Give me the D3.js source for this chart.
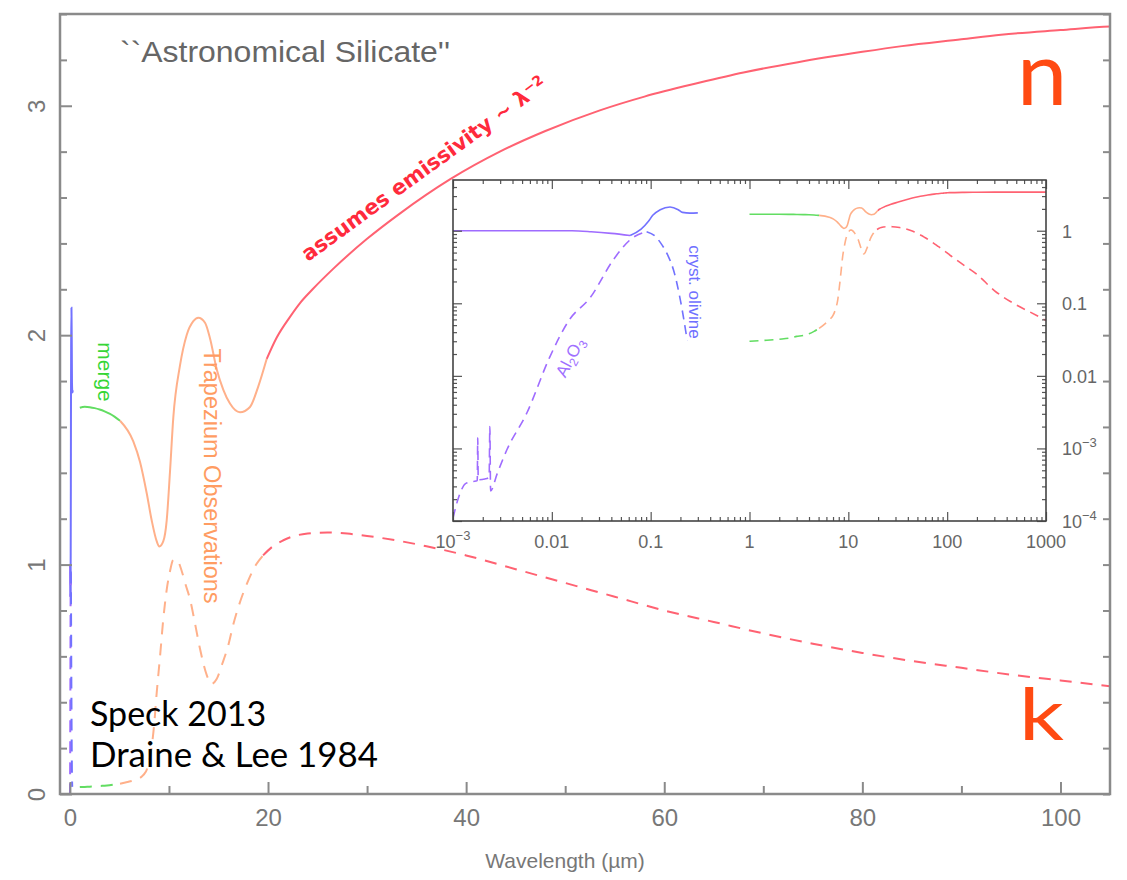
<!DOCTYPE html>
<html>
<head>
<meta charset="utf-8">
<script src="https://cdn.jsdelivr.net/npm/d3@7"></script>
<style>
  body { margin: 0; background: #fff; }
  svg  { display: block; }
</style>
</head>
<body>
<div id="chart"></div>
<script>
// optical constants of "astronomical silicate", wavelength in micron
// short wavelengths (Al2O3 / crystalline olivine)
const lamUV    = [0.001, 0.002, 0.005, 0.01, 0.016, 0.025, 0.04, 0.062];
const nUV      = [1.00, 1.00, 1.00, 1.00, 1.00, 0.97, 0.92, 0.86];
const lamOlv   = [0.062, 0.08, 0.095, 0.105, 0.125, 0.157, 0.19, 0.21, 0.25, 0.30];
const nOlv     = [0.86, 1.05, 1.35, 1.63, 1.95, 2.12, 1.95, 1.79, 1.75, 1.76];
const lamAl    = [0.001, 0.00115, 0.00135, 0.0016, 0.00176, 0.00178, 0.0018, 0.0021, 0.00232, 0.00236, 0.0024, 0.0028, 0.0035, 0.0056, 0.0095, 0.015, 0.0245, 0.042, 0.065, 0.091];
const kAl      = [1.1e-4, 2.2e-4, 3.3e-4, 3.5e-4, 3.6e-4, 1.4e-3, 3.7e-4, 3.8e-4, 4.0e-4, 2.0e-3, 2.6e-4, 4.5e-4, 9.5e-4, 3.1e-3, 0.018, 0.059, 0.12, 0.40, 0.79, 0.97];
const lamOlvK  = [0.091, 0.11, 0.126, 0.15, 0.17, 0.20, 0.234];
const kOlv     = [0.97, 0.85, 0.68, 0.45, 0.29, 0.11, 0.031];

// merge region
const lamMerge = [1.0, 1.5, 2.0, 2.5, 3.0, 3.5, 4.0, 4.5, 5.06];
const nMerge   = [1.684, 1.688, 1.686, 1.682, 1.676, 1.668, 1.658, 1.645, 1.627];
const kMerge   = [0.030, 0.031, 0.032, 0.033, 0.035, 0.036, 0.038, 0.041, 0.045];

// Trapezium observations
const lamTrapN = [5.06, 6.4, 7.08, 7.75, 8.26, 8.76, 9.03, 9.43, 9.77, 10.1, 10.44, 11.11, 11.79, 12.46, 12.96, 13.64, 14.14, 14.82, 15.49, 16.16, 17.17, 18.18, 19.02, 19.87];
const nTrap    = [1.627, 1.537, 1.447, 1.312, 1.192, 1.102, 1.079, 1.102, 1.192, 1.402, 1.642, 1.867, 2.001, 2.061, 2.076, 2.054, 1.987, 1.852, 1.762, 1.702, 1.664, 1.687, 1.777, 1.897];
const lamTrapK = [5.06, 5.8, 6.5, 7.0, 7.4, 7.8, 8.2, 8.5, 8.76, 9.1, 9.4, 9.77, 10.1, 10.44, 10.8, 11.3, 11.7, 12.12, 12.6, 13.1, 13.8, 14.3, 14.8, 15.4, 16.0, 16.5, 17.2, 18.0, 18.8, 19.5];
const kTrap    = [0.045, 0.052, 0.060, 0.068, 0.082, 0.11, 0.19, 0.30, 0.44, 0.60, 0.75, 0.89, 0.97, 1.02, 1.02, 0.97, 0.91, 0.85, 0.75, 0.64, 0.52, 0.48, 0.50, 0.57, 0.65, 0.74, 0.84, 0.93, 1.00, 1.04];

// Draine & Lee, emissivity ~ lambda^-2
const lamDLN   = [19.87, 20.88, 22.22, 23.23, 24.5, 26.6, 30, 33.3, 38.4, 43.4, 48, 53.5, 58, 63.5, 68, 73.5, 80, 84, 90, 94, 100, 105, 150, 200, 300, 500, 1000];
const nDL      = [1.897, 1.99, 2.08, 2.14, 2.20, 2.29, 2.42, 2.53, 2.68, 2.80, 2.89, 2.98, 3.04, 3.10, 3.145, 3.19, 3.235, 3.26, 3.29, 3.31, 3.33, 3.345, 3.38, 3.39, 3.40, 3.40, 3.40];
const lamDLK   = [19.5, 20.5, 21.5, 22.6, 24, 26, 28, 30, 33, 36, 40, 45, 50, 55, 60, 65, 70, 75, 80, 85, 90, 95, 100, 105, 150, 200, 300, 500, 700, 1000];
const kDL      = [1.04, 1.08, 1.105, 1.124, 1.135, 1.14, 1.135, 1.125, 1.105, 1.08, 1.04, 0.98, 0.92, 0.86, 0.80, 0.75, 0.70, 0.655, 0.615, 0.58, 0.55, 0.52, 0.495, 0.47, 0.33, 0.25, 0.15, 0.095, 0.075, 0.058];

// axis ticks
const xMajor   = [0, 20, 40, 60, 80, 100];
const xMinor   = [10, 30, 50, 70, 90];
const yMajor   = [0, 1, 2, 3];
const yAll     = d3.range(0, 3.41, 0.2).map(v => +v.toFixed(1));
const insetX   = [1e-3, 1e-2, 1e-1, 1, 10, 100, 1000];
const insetXLabels = [["10", "\u22123"], ["0.01"], ["0.1"], ["1"], ["10"], ["100"], ["1000"]];
const insetY   = [1, 0.1, 0.01, 1e-3, 1e-4];
const insetYLabels = [["1"], ["0.1"], ["0.01"], ["10", "\u22123"], ["10", "\u22124"]];

const RED = "#ff6272", ORANGE = "#ffb08a", GREEN = "#62dd62", BLUE = "#7272ff", PURPLE = "#9f6cff";

const series = [
    { lam: lamUV,    val: nUV,    color: PURPLE, dash: false },
    { lam: lamOlv,   val: nOlv,   color: BLUE,   dash: false },
    { lam: lamAl,    val: kAl,    color: PURPLE, dash: true  },
    { lam: lamOlvK,  val: kOlv,   color: BLUE,   dash: true  },
    { lam: lamMerge, val: nMerge, color: GREEN,  dash: false },
    { lam: lamMerge, val: kMerge, color: GREEN,  dash: true  },
    { lam: lamTrapN, val: nTrap,  color: ORANGE, dash: false },
    { lam: lamTrapK, val: kTrap,  color: ORANGE, dash: true  },
    { lam: lamDLN,   val: nDL,    color: RED,    dash: false },
    { lam: lamDLK,   val: kDL,    color: RED,    dash: true  }
].map(s => ({ ...s, pts: d3.zip(s.lam, s.val) }));

const W = 1127, H = 880;
const svg = d3.select("#chart").append("svg")
    .attr("width", W).attr("height", H)
    .style("font-family", "'Liberation Sans', Arial, sans-serif");

const x = d3.scaleLinear().domain([-1, 105]).range([60, 1110]);
const y = d3.scaleLinear().domain([0, 3.4]).range([794, 14]);

const defs = svg.append("defs");
defs.append("clipPath").attr("id", "clipMain")
    .append("rect").attr("x", 60).attr("y", 14).attr("width", 1050).attr("height", 780);

const line = d3.line()
    .x(d => x(d[0]))
    .y(d => y(d[1]))
    .curve(d3.curveMonotoneX);

// ---- main curves
svg.append("g").attr("clip-path", "url(#clipMain)")
    .selectAll("path")
    .data(series)
    .join("path")
    .attr("fill", "none")
    .attr("stroke", d => d.color)
    .attr("stroke-width", 2)
    .attr("stroke-dasharray", d => d.dash ? "12,9" : null)
    .attr("d", d => line(d.pts));

// ---- main axes
const axisColor = "#8a8a8a";
function styleAxis(g, w)
{
    g.select(".domain").remove();
    g.selectAll("line").attr("stroke", axisColor).attr("stroke-width", w);
    g.selectAll("text").attr("fill", "#777").style("font-size", "24px").style("font-family", "'Liberation Sans', Arial, sans-serif");
}

svg.append("g").attr("transform", "translate(0,794)")
    .call(d3.axisBottom(x).tickValues(xMajor).tickSize(-12).tickPadding(15).tickFormat(d3.format("d")))
    .call(g => styleAxis(g, 2));
svg.append("g").attr("transform", "translate(0,794)")
    .call(d3.axisBottom(x).tickValues(xMinor).tickSize(-8).tickFormat(""))
    .call(g => styleAxis(g, 2));

svg.append("g").attr("transform", "translate(60,0)")
    .call(d3.axisLeft(y).tickValues(yMajor).tickSize(-12).tickFormat(d3.format("d")))
    .call(g => styleAxis(g, 2))
    .call(g => g.selectAll("text")
        .attr("transform", "rotate(-90)")
        .attr("x", 0).attr("y", -15).attr("dy", null)
        .attr("text-anchor", "middle"));
svg.append("g").attr("transform", "translate(60,0)")
    .call(d3.axisLeft(y).tickValues(yAll.filter(v => !yMajor.includes(v))).tickSize(-7).tickFormat(""))
    .call(g => styleAxis(g, 2));
svg.append("g").attr("transform", "translate(1110,0)")
    .call(d3.axisRight(y).tickValues(yAll).tickSize(-7).tickFormat(""))
    .call(g => styleAxis(g, 2));

svg.append("rect")
    .attr("x", 60).attr("y", 14).attr("width", 1050).attr("height", 780)
    .attr("fill", "none").attr("stroke", axisColor).attr("stroke-width", 2.5);

svg.append("text")
    .attr("x", 565).attr("y", 868)
    .attr("text-anchor", "middle")
    .attr("fill", "#777").style("font-size", "21px")
    .text("Wavelength (\u00b5m)");

// ---- labels on main plot
svg.append("text")
    .attr("x", 120).attr("y", 62)
    .attr("textLength", 330).attr("lengthAdjust", "spacingAndGlyphs")
    .attr("fill", "#666").style("font-size", "30px")
    .text("``Astronomical Silicate''");

const arcText = svg.append("text")
    .attr("transform", "translate(308,262) rotate(-36)")
    .attr("fill", "#ff2a3c").style("font-size", "21px")
    .style("font-weight", "bold")
    .style("font-family", "'DejaVu Sans', sans-serif");
arcText.append("tspan").text("assumes emissivity ~ \u03bb");
arcText.append("tspan").attr("dy", -7).style("font-size", "14px").text("\u22122");

svg.append("text")
    .attr("transform", "translate(98,372) rotate(90)")
    .attr("text-anchor", "middle")
    .attr("fill", "#36d636").style("font-size", "21px")
    .text("merge");

svg.append("text")
    .attr("transform", "translate(204,476) rotate(90)")
    .attr("text-anchor", "middle")
    .attr("textLength", 255).attr("lengthAdjust", "spacingAndGlyphs")
    .attr("fill", "#ff9c62").style("font-size", "23px")
    .text("Trapezium Observations");

svg.append("text")
    .attr("x", 90).attr("y", 726)
    .style("font-family", "Lato, sans-serif").style("font-size", "34px")
    .attr("fill", "#000")
    .text("Speck 2013");
svg.append("text")
    .attr("x", 90).attr("y", 767)
    .attr("textLength", 288).attr("lengthAdjust", "spacingAndGlyphs")
    .style("font-family", "Lato, sans-serif").style("font-size", "34px")
    .attr("fill", "#000")
    .text("Draine & Lee 1984");

svg.append("text")
    .attr("x", 1017).attr("y", 105)
    .style("font-family", "Lato, sans-serif").style("font-size", "90px")
    .attr("fill", "#ff4a12")
    .text("n");
svg.append("text")
    .attr("x", 1019).attr("y", 740)
    .attr("textLength", 45).attr("lengthAdjust", "spacingAndGlyphs")
    .style("font-family", "Lato, sans-serif").style("font-size", "72px")
    .attr("fill", "#ff4a12")
    .text("k");

// ---- inset (log-log)
const xi = d3.scaleLog().domain([1e-3, 1000]).range([453, 1046]);
const yi = d3.scaleLog().domain([1e-4, 5]).range([521, 180]);

defs.append("clipPath").attr("id", "clipInset")
    .append("rect").attr("x", 453).attr("y", 180).attr("width", 593).attr("height", 341);

const inset = svg.append("g");
inset.append("rect")
    .attr("x", 453).attr("y", 180).attr("width", 593).attr("height", 341)
    .attr("fill", "#fff");

const lineInset = d3.line()
    .x(d => xi(d[0]))
    .y(d => yi(d[1]))
    .curve(d3.curveMonotoneX);

inset.append("g").attr("clip-path", "url(#clipInset)")
    .selectAll("path")
    .data(series)
    .join("path")
    .attr("fill", "none")
    .attr("stroke", d => d.color)
    .attr("stroke-width", 1.6)
    .attr("stroke-dasharray", d => d.dash ? "9,6" : null)
    .attr("d", d => lineInset(d.pts));

const decadesX = d3.range(-3, 3);
const minorX = decadesX.flatMap(e => d3.range(2, 10).map(m => m * Math.pow(10, e)));
const decadesY = d3.range(-4, 1);
const minorY = decadesY.flatMap(e => d3.range(2, 10).map(m => m * Math.pow(10, e))).filter(v => v < 5);
const majorY = [1e-4, 1e-3, 1e-2, 1e-1, 1];

function styleInset(g)
{
    g.select(".domain").remove();
    g.selectAll("line").attr("stroke", "#555").attr("stroke-width", 1.2);
    g.selectAll("text").remove();
}
inset.append("g").attr("transform", "translate(0,521)").call(d3.axisBottom(xi).tickValues(insetX).tickSize(-9)).call(styleInset);
inset.append("g").attr("transform", "translate(0,521)").call(d3.axisBottom(xi).tickValues(minorX).tickSize(-4)).call(styleInset);
inset.append("g").attr("transform", "translate(0,180)").call(d3.axisTop(xi).tickValues(insetX).tickSize(-9)).call(styleInset);
inset.append("g").attr("transform", "translate(0,180)").call(d3.axisTop(xi).tickValues(minorX).tickSize(-4)).call(styleInset);
inset.append("g").attr("transform", "translate(453,0)").call(d3.axisLeft(yi).tickValues(majorY).tickSize(-9)).call(styleInset);
inset.append("g").attr("transform", "translate(453,0)").call(d3.axisLeft(yi).tickValues(minorY).tickSize(-4)).call(styleInset);
inset.append("g").attr("transform", "translate(1046,0)").call(d3.axisRight(yi).tickValues(majorY).tickSize(-9)).call(styleInset);
inset.append("g").attr("transform", "translate(1046,0)").call(d3.axisRight(yi).tickValues(minorY).tickSize(-4)).call(styleInset);

inset.append("rect")
    .attr("x", 453).attr("y", 180).attr("width", 593).attr("height", 341)
    .attr("fill", "none").attr("stroke", "#444").attr("stroke-width", 1.6);

function powLabel(sel, parts)
{
    sel.append("tspan").text(parts[0]);
    if (parts[1]) sel.append("tspan").attr("dy", -8).style("font-size", "13px").text(parts[1]);
}

insetX.forEach((v, i) =>
{
    inset.append("text")
        .attr("x", xi(v)).attr("y", 548)
        .attr("text-anchor", "middle")
        .attr("fill", "#666").style("font-size", "18px")
        .call(powLabel, insetXLabels[i]);
});
insetY.forEach((v, i) =>
{
    inset.append("text")
        .attr("x", 1062).attr("y", yi(v) + 7)
        .attr("fill", "#666").style("font-size", "18px")
        .call(powLabel, insetYLabels[i]);
});

inset.append("text")
    .attr("transform", "translate(689,292) rotate(90)")
    .attr("text-anchor", "middle")
    .attr("fill", "#6f6fff").style("font-size", "17px")
    .text("cryst. olivine");

const al = inset.append("text")
    .attr("transform", "translate(575,360) rotate(-62)")
    .attr("text-anchor", "middle")
    .attr("fill", "#a070ff").style("font-size", "17px");
al.append("tspan").text("Al");
al.append("tspan").attr("dy", 4).style("font-size", "12px").text("2");
al.append("tspan").attr("dy", -4).text("O");
al.append("tspan").attr("dy", 4).style("font-size", "12px").text("3");
</script>
</body>
</html>
